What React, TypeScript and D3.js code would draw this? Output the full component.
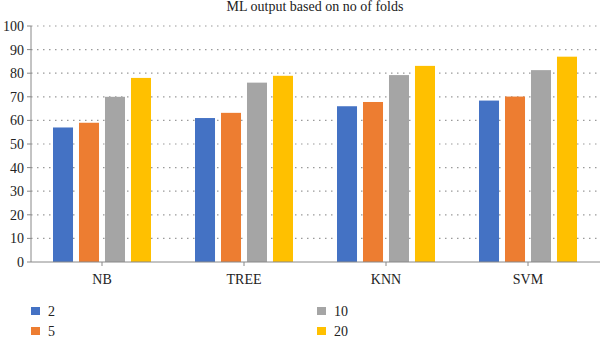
import React from "react";
import * as d3 from "d3";

const title = "ML output based on no of folds";
const categories = ["NB", "TREE", "KNN", "SVM"];
const seriesNames = ["2", "5", "10", "20"];
const seriesColors = ["#4472C4", "#ED7D31", "#A5A5A5", "#FFC000"];
const values2 = [57, 61, 66, 68.4];
const values5 = [59, 63.2, 67.8, 70.1];
const values10 = [70, 76, 79.2, 81.3];
const values20 = [78, 78.9, 83.1, 87];
const yTicks = [0, 10, 20, 30, 40, 50, 60, 70, 80, 90, 100];

const seriesValues = [values2, values5, values10, values20];

export default function App() {
  const W = 600, H = 340;
  const left = 31, right = 599, top = 26, bottom = 262;
  const font = "Liberation Serif, DejaVu Serif, serif";
  const ts = { fontFamily: font };
  const x0 = d3.scaleBand<string>().domain(categories).range([left, right]).padding(0);
  const groupW = 98;
  const x1 = d3.scaleBand<string>().domain(seriesNames).range([0, groupW]).paddingInner(0.23).paddingOuter(0);
  const y = d3.scaleLinear().domain([0, 100]).range([bottom, top]);
  const offset = (x0.bandwidth() - groupW) / 2;

  return (
    <svg width={W} height={H} style={{ position: "absolute", left: 0, top: 0, background: "#fff" }}>
      <text x={W / 2 + 15} y={11} textAnchor="middle" fontSize={14} fill="#222" style={ts}>{title}</text>
      {yTicks.filter(t => t > 0).map(t => (
        <line key={"g" + t} x1={left} x2={right} y1={y(t)} y2={y(t)} stroke="#9a9a9a" strokeWidth={1.2} strokeDasharray="1.5 4.5" />
      ))}
      {categories.map((c, ci) => (
        <g key={c}>
          {seriesNames.map((s, si) => {
            const v = seriesValues[si][ci];
            return (
              <rect key={s} x={(x0(c) as number) + offset + (x1(s) as number)} y={y(v)} width={x1.bandwidth()} height={y(0) - y(v)} fill={seriesColors[si]} />
            );
          })}
        </g>
      ))}
      <line x1={left} x2={left} y1={top} y2={bottom} stroke="#888" strokeWidth={1} />
      <line x1={left} x2={W} y1={bottom} y2={bottom} stroke="#888" strokeWidth={1} />
      {yTicks.map(t => (
        <g key={"t" + t}>
          <line x1={left - 4} x2={left} y1={y(t)} y2={y(t)} stroke="#888" />
          <text x={left - 7} y={y(t)} dy="0.35em" textAnchor="end" fontSize={14} fill="#222" style={ts}>{t}</text>
        </g>
      ))}
      {categories.map(c => {
        const cx = (x0(c) as number) + x0.bandwidth() / 2;
        return (
          <g key={"c" + c}>
            <line x1={cx} x2={cx} y1={bottom} y2={bottom + 4} stroke="#888" />
            <text x={cx} y={284} textAnchor="middle" fontSize={14} fill="#222" style={ts}>{c}</text>
          </g>
        );
      })}
      {seriesNames.map((s, i) => {
        const col = Math.floor(i / 2);
        const row = i % 2;
        const lx = col === 0 ? 31 : 317;
        const ly = 307 + row * 20;
        return (
          <g key={"l" + s}>
            <rect x={lx} y={ly} width={9} height={8} fill={seriesColors[i]} />
            <text x={lx + 17} y={ly + 9} fontSize={14} fill="#222" style={ts}>{s}</text>
          </g>
        );
      })}
    </svg>
  );
}
